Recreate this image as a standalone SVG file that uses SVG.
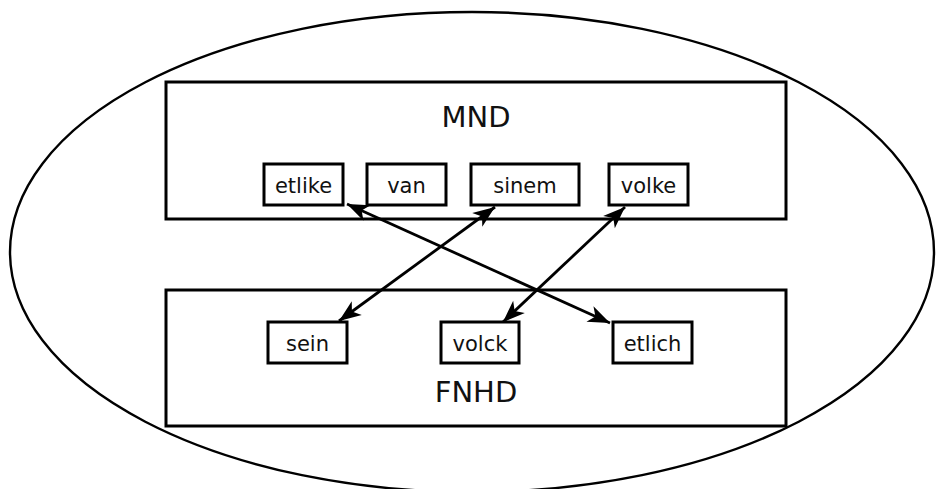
<svg xmlns="http://www.w3.org/2000/svg" width="936" height="489" viewBox="0 0 936 489">
<style>
  .box{fill:#fff;stroke:#000;stroke-width:3}
  .big{fill:none;stroke:#000;stroke-width:3}
  .lbl{font-family:"DejaVu Sans",sans-serif;font-size:21px;text-anchor:middle;fill:#111}
  .title{font-family:"DejaVu Sans",sans-serif;font-size:29px;text-anchor:middle;fill:#111}
  .conn{stroke:#000;stroke-width:2.8;fill:none;marker-start:url(#ah);marker-end:url(#ah)}
</style>
<defs>
  <marker id="ah" markerUnits="userSpaceOnUse" markerWidth="28" markerHeight="24" viewBox="-24 -12 26 24" refX="0" refY="0" orient="auto-start-reverse">
    <path d="M0,0 L-22,-8.5 L-16,0 L-22,8.5 Z" fill="#000"/>
  </marker>
</defs>
<rect width="936" height="489" fill="#fff"/>
<g id="outer">
  <ellipse cx="472" cy="252" rx="462" ry="240" fill="none" stroke="#000" stroke-width="2.4"/>
</g>
<g id="MND">
  <rect class="big" x="166" y="82" width="620" height="137"/>
  <text class="title" x="476" y="127">MND</text>
</g>
<g id="FNHD">
  <rect class="big" x="166" y="290" width="620" height="136"/>
  <text class="title" x="476" y="402">FNHD</text>
</g>
<g id="etlike"><rect class="box" x="264" y="164" width="79" height="41"/><text class="lbl" x="303.5" y="193">etlike</text></g>
<g id="van"><rect class="box" x="367" y="164" width="79" height="41"/><text class="lbl" x="406.5" y="193">van</text></g>
<g id="sinem"><rect class="box" x="471" y="164" width="108" height="41"/><text class="lbl" x="525" y="193">sinem</text></g>
<g id="volke"><rect class="box" x="609" y="164" width="79" height="41"/><text class="lbl" x="648.5" y="193">volke</text></g>
<g id="sein"><rect class="box" x="268" y="322" width="79" height="41"/><text class="lbl" x="307.5" y="351">sein</text></g>
<g id="volck"><rect class="box" x="441" y="322" width="78" height="41"/><text class="lbl" x="480" y="351">volck</text></g>
<g id="etlich"><rect class="box" x="613" y="322" width="79" height="41"/><text class="lbl" x="652.5" y="351">etlich</text></g>
<g id="connectors">
  <line class="conn" x1="347" y1="204" x2="610" y2="323"/>
  <line class="conn" x1="495" y1="207" x2="339" y2="321"/>
  <line class="conn" x1="625" y1="207" x2="503" y2="322"/>
</g>
</svg>
